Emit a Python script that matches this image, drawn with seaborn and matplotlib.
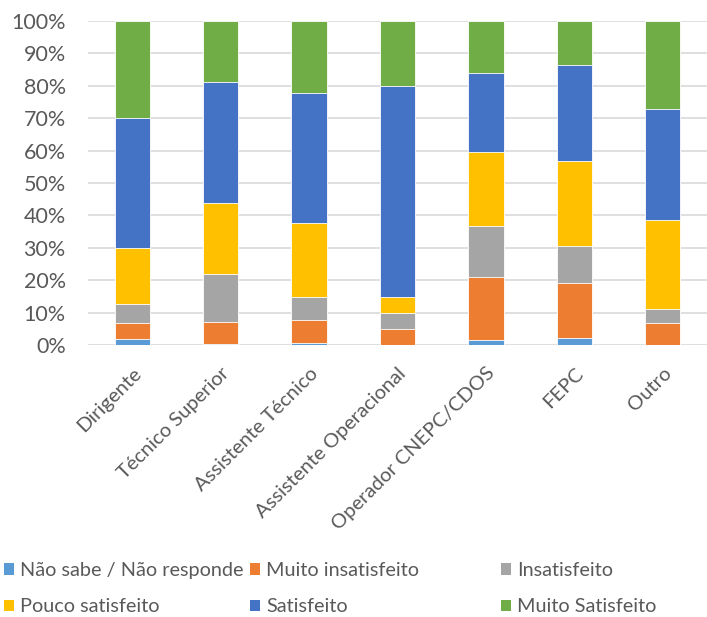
import numpy as np
import pandas as pd
import matplotlib
matplotlib.use("Agg")
import matplotlib.pyplot as plt
from matplotlib.patches import Patch
import seaborn as sns

# Categories (professional groups)
categories = ["Dirigente", "Técnico Superior", "Assistente Técnico",
              "Assistente Operacional", "Operador CNEPC/CDOS", "FEPC", "Outro"]

# Share of answers per group (%)
nao_sabe = [1.7, 0.2, 0.6, 0.0, 1.4, 2.2, 0.0]
muito_insatisfeito = [5.0, 6.8, 7.0, 4.8, 19.6, 16.8, 6.7]
insatisfeito = [6.1, 14.8, 7.1, 5.0, 15.8, 11.6, 4.4]
pouco_satisfeito = [17.0, 21.9, 23.1, 5.0, 22.8, 26.1, 27.4]
satisfeito = [40.2, 37.6, 40.1, 65.2, 24.5, 29.8, 34.2]
muito_satisfeito = [30.0, 18.7, 22.1, 20.0, 15.9, 13.5, 27.3]

series_names = ["Não sabe / Não responde", "Muito insatisfeito", "Insatisfeito",
                "Pouco satisfeito", "Satisfeito", "Muito Satisfeito"]
series_values = [nao_sabe, muito_insatisfeito, insatisfeito,
                 pouco_satisfeito, satisfeito, muito_satisfeito]
colors = ["#5B9BD5", "#ED7D31", "#A5A5A5", "#FFC000", "#4472C4", "#70AD47"]

y_ticks = list(range(0, 101, 10))
y_tick_labels = [f"{t}%" for t in y_ticks]

sns.set_theme(style="white")
plt.rcParams["font.family"] = ["Lato", "DejaVu Sans"]
text_color = "#595959"

df = pd.DataFrame({name: vals for name, vals in zip(series_names, series_values)},
                  index=categories)
cum = df.cumsum(axis=1)

fig = plt.figure(figsize=(7.07, 6.17), dpi=100)
ax = fig.add_axes([88 / 707, 1 - 345 / 617, 1 - 88 / 707, (345 - 21) / 617])

# Stacked bars: draw cumulative totals from the top series downwards
for name, color in reversed(list(zip(series_names, colors))):
    sns.barplot(x=cum.index, y=cum[name].values, color=color, saturation=1,
                width=0.4, edgecolor="white", linewidth=0.6, ax=ax, zorder=3)

ax.set_ylim(0, 100)
ax.set_xlim(-0.5, len(categories) - 0.5)
ax.set_yticks(y_ticks)
ax.set_yticklabels(y_tick_labels, fontsize=15.5, color=text_color)
ax.yaxis.grid(True, color="#D9D9D9", linewidth=1.2, zorder=0)
ax.set_axisbelow(True)
for s in ax.spines.values():
    s.set_visible(False)
ax.tick_params(axis="y", length=0, pad=16)
ax.tick_params(axis="x", length=0, pad=14)
ax.set_xlabel("")
ax.set_ylabel("")
ax.set_xticks(range(len(categories)))
ax.set_xticklabels(categories, rotation=45, ha="right", va="top",
                   rotation_mode="anchor", fontsize=14.5, color=text_color)

# Legend laid out in three evenly spaced columns
handles = [Patch(facecolor=c, edgecolor="none") for c in colors]
col_x = [4 / 707, 250 / 707, 501 / 707]
for i, x in enumerate(col_x):
    idx = [i, i + 3]
    fig.legend([handles[j] for j in idx], [series_names[j] for j in idx],
               loc="upper left", bbox_to_anchor=(x, 1 - 562 / 617),
               frameon=False, fontsize=14.3, labelcolor=text_color,
               handlelength=0.5, handleheight=0.5, handletextpad=0.3,
               labelspacing=0.97, borderpad=0, borderaxespad=0)

fig.savefig("out.png", dpi=100)
